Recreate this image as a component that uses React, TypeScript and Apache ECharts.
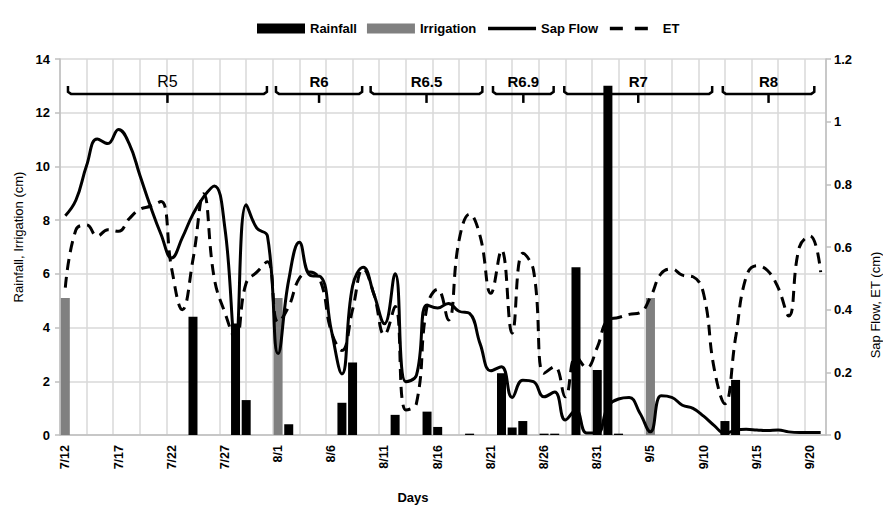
import React, { useEffect, useRef } from "react";
import * as echarts from "echarts";

const days: string[] = [
  "7/12", "7/13", "7/14", "7/15", "7/16", "7/17", "7/18", "7/19", "7/20", "7/21",
  "7/22", "7/23", "7/24", "7/25", "7/26", "7/27", "7/28", "7/29", "7/30", "7/31",
  "8/1", "8/2", "8/3", "8/4", "8/5", "8/6", "8/7", "8/8", "8/9", "8/10",
  "8/11", "8/12", "8/13", "8/14", "8/15", "8/16", "8/17", "8/18", "8/19", "8/20",
  "8/21", "8/22", "8/23", "8/24", "8/25", "8/26", "8/27", "8/28", "8/29", "8/30",
  "8/31", "9/1", "9/2", "9/3", "9/4", "9/5", "9/6", "9/7", "9/8", "9/9",
  "9/10", "9/11", "9/12", "9/13", "9/14", "9/15", "9/16", "9/17", "9/18", "9/19",
  "9/20", "9/21",
];

// Rainfall (cm) on the days it fell
const rainfall: [string, number][] = [
  ["7/24", 4.4], ["7/28", 4.15], ["7/29", 1.3], ["8/2", 0.4], ["8/7", 1.2],
  ["8/8", 2.7], ["8/12", 0.75], ["8/15", 0.87], ["8/16", 0.3], ["8/19", 0.05],
  ["8/22", 2.3], ["8/23", 0.28], ["8/24", 0.52], ["8/26", 0.05], ["8/27", 0.05],
  ["8/29", 6.25], ["8/31", 2.42], ["9/1", 13.0], ["9/2", 0.05], ["9/12", 0.52],
  ["9/13", 2.05],
];

// Irrigation (cm)
const irrigation: [string, number][] = [
  ["7/12", 5.1], ["8/1", 5.1], ["9/5", 5.1],
];

// Sap flow (cm), one value per day
const sapFlow: number[] = [
  0.70, 0.75, 0.86, 0.945, 0.93, 0.975, 0.93, 0.83, 0.73, 0.64,
  0.565, 0.63, 0.705, 0.76, 0.795, 0.66, 0.30, 0.735, 0.66, 0.635,
  0.26, 0.495, 0.615, 0.51, 0.505, 0.335, 0.195, 0.475, 0.535, 0.45,
  0.355, 0.515, 0.17, 0.19, 0.415, 0.405, 0.42, 0.395, 0.388, 0.29,
  0.205, 0.218, 0.12, 0.175, 0.17, 0.122, 0.137, 0.048, 0.08, 0.006,
  0.006, 0.09, 0.115, 0.12, 0.07, 0.01, 0.125, 0.12, 0.095, 0.085,
  0.06, 0.03, 0.005, 0.015, 0.018, 0.016, 0.014, 0.016, 0.01, 0.008,
  0.008, 0.008,
];

// ET (cm), one value per day
const et: number[] = [
  0.47, 0.655, 0.67, 0.635, 0.655, 0.65, 0.69, 0.72, 0.73, 0.745,
  0.53, 0.40, 0.56, 0.77, 0.50, 0.39, 0.31, 0.485, 0.52, 0.553,
  0.36, 0.41, 0.50, 0.52, 0.49, 0.33, 0.27, 0.40, 0.53, 0.45,
  0.32, 0.41, 0.08, 0.10, 0.41, 0.465, 0.367, 0.62, 0.705, 0.633,
  0.452, 0.59, 0.325, 0.58, 0.527, 0.197, 0.218, 0.122, 0.25, 0.215,
  0.28, 0.367, 0.375, 0.385, 0.39, 0.44, 0.515, 0.53, 0.51, 0.505,
  0.45, 0.21, 0.10, 0.31, 0.505, 0.54, 0.525, 0.47, 0.38, 0.60,
  0.635, 0.52,
];

// Growth stages (start / end in days from 7/12)
const stageNames: string[] = ["R5", "R6", "R6.5", "R6.9", "R7", "R8"];
const stageStart: number[] = [0.75, 20.3, 29.2, 40.7, 47.4, 62.3];
const stageEnd: number[] = [19.45, 28.4, 39.7, 46.4, 61.3, 70.9];

const FONT = "'Liberation Sans', Arial, Helvetica, sans-serif";
const BRACKET_LEVEL = 12.7;

export default function App() {
  const ref = useRef<HTMLDivElement>(null);

  useEffect(() => {
    const chart = echarts.init(ref.current!, null, { renderer: "svg" });
    const stageData = stageNames.map((_, i) => [stageStart[i], stageEnd[i], i]);

    chart.setOption({
      animation: false,
      textStyle: { fontFamily: FONT },
      grid: { left: 60, right: 57, top: 59, bottom: 71 },
      legend: {
        left: 252,
        top: 17,
        itemWidth: 48,
        itemHeight: 10,
        itemGap: 10,
        textStyle: { fontFamily: FONT, fontWeight: "bold", fontSize: 13, color: "#000" },
        data: [
          { name: "Rainfall", icon: "rect" },
          { name: "Irrigation", icon: "rect" },
          { name: "Sap Flow", itemStyle: { opacity: 0 }, lineStyle: { width: 3.5 } },
          { name: "ET", itemStyle: { opacity: 0 }, lineStyle: { width: 3.5, type: [13, 12] } },
        ],
      },
      xAxis: [
        {
          type: "category",
          data: days,
          boundaryGap: true,
          axisLine: { lineStyle: { color: "#bfbfbf", width: 1.5 } },
          axisTick: { interval: 4, length: 6, lineStyle: { color: "#bfbfbf", width: 1.5 } },
          axisLabel: {
            interval: 4,
            rotate: 90,
            margin: 10,
            color: "#000",
            fontWeight: "bold",
            fontSize: 12.5,
            fontFamily: FONT,
          },
          splitLine: { show: false },
        },
        {
          type: "value",
          min: 0,
          max: 72,
          interval: 2.5,
          position: "bottom",
          axisLine: { show: false },
          axisTick: { show: false },
          axisLabel: { show: false },
          splitLine: { show: true, lineStyle: { color: "#d9d9d9", width: 1.5 } },
        },
      ],
      yAxis: [
        {
          type: "value",
          min: 0,
          max: 14,
          interval: 2,
          axisLine: { show: true, lineStyle: { color: "#bfbfbf", width: 1.5 } },
          axisTick: { show: true, length: 5, lineStyle: { color: "#bfbfbf", width: 1.5 } },
          axisLabel: { color: "#000", fontWeight: "bold", fontSize: 13, fontFamily: FONT, margin: 10 },
          splitLine: { show: true, lineStyle: { color: "#d9d9d9", width: 1.5 } },
        },
        {
          type: "value",
          min: 0,
          max: 1.2,
          interval: 0.2,
          position: "right",
          axisLine: { show: true, lineStyle: { color: "#bfbfbf", width: 1.5 } },
          axisTick: { show: true, length: 5, lineStyle: { color: "#bfbfbf", width: 1.5 } },
          axisLabel: { color: "#000", fontWeight: "bold", fontSize: 13, fontFamily: FONT, margin: 8 },
          splitLine: { show: false },
        },
      ],
      graphic: [
        {
          type: "text",
          x: 413,
          y: 497,
          style: {
            text: "Days",
            align: "center",
            verticalAlign: "middle",
            fontFamily: FONT,
            fontWeight: "bold",
            fontSize: 13,
            fill: "#000",
          },
        },
        {
          type: "text",
          x: 18,
          y: 237,
          rotation: Math.PI / 2,
          style: {
            text: "Rainfall, Irrigation (cm)",
            align: "center",
            verticalAlign: "middle",
            fontFamily: FONT,
            fontSize: 13,
            fill: "#000",
          },
        },
        {
          type: "text",
          x: 875,
          y: 305,
          rotation: Math.PI / 2,
          style: {
            text: "Sap Flow, ET (cm)",
            align: "center",
            verticalAlign: "middle",
            fontFamily: FONT,
            fontSize: 13,
            fill: "#000",
          },
        },
      ],
      series: [
        {
          name: "Rainfall",
          type: "bar",
          xAxisIndex: 0,
          yAxisIndex: 0,
          barWidth: 9,
          barGap: "-100%",
          itemStyle: { color: "#000000" },
          data: rainfall,
          z: 2,
        },
        {
          name: "Irrigation",
          type: "bar",
          xAxisIndex: 0,
          yAxisIndex: 0,
          barWidth: 9,
          barGap: "-100%",
          itemStyle: { color: "#808080" },
          data: irrigation,
          z: 2,
        },
        {
          name: "Sap Flow",
          type: "line",
          xAxisIndex: 0,
          yAxisIndex: 1,
          data: sapFlow,
          smooth: 0.45,
          symbol: "none",
          lineStyle: { color: "#000", width: 3 },
          itemStyle: { color: "#000" },
          z: 4,
        },
        {
          name: "ET",
          type: "line",
          xAxisIndex: 0,
          yAxisIndex: 1,
          data: et,
          smooth: 0.45,
          symbol: "none",
          lineStyle: { color: "#000", width: 3, type: [11, 7] },
          itemStyle: { color: "#000" },
          z: 3,
        },
        {
          name: "stages",
          type: "custom",
          xAxisIndex: 1,
          yAxisIndex: 0,
          silent: true,
          z: 5,
          data: stageData,
          encode: { x: [0, 1], y: 2 },
          renderItem: (params: any, api: any) => {
            const x1 = api.value(0);
            const x2 = api.value(1);
            const idx = api.value(2);
            const s = api.coord([x1, BRACKET_LEVEL]);
            const e = api.coord([x2, BRACKET_LEVEL]);
            const m = api.coord([(x1 + x2) / 2, BRACKET_LEVEL]);
            const y = s[1];
            const isFirst = idx === 0;
            return {
              type: "group",
              children: [
                {
                  type: "polyline",
                  shape: {
                    points: [
                      [s[0], y - 8],
                      [s[0], y - 2],
                      [s[0] + 3, y],
                      [e[0] - 3, y],
                      [e[0], y - 2],
                      [e[0], y - 8],
                    ],
                  },
                  style: { stroke: "#000", lineWidth: 2.5, fill: null },
                },
                {
                  type: "line",
                  shape: { x1: m[0], y1: y, x2: m[0], y2: y + 9 },
                  style: { stroke: "#000", lineWidth: 2.5 },
                },
                {
                  type: "text",
                  x: m[0],
                  y: y - 12,
                  style: {
                    text: stageNames[idx],
                    align: "center",
                    verticalAlign: "middle",
                    fontFamily: FONT,
                    fontWeight: isFirst ? "normal" : "bold",
                    fontSize: isFirst ? 16 : 15,
                    fill: "#000",
                  },
                },
              ],
            };
          },
        },
      ],
    });

    return () => chart.dispose();
  }, []);

  return (
    <div
      ref={ref}
      style={{ position: "absolute", left: 0, top: 0, width: 883, height: 506 }}
    />
  );
}
